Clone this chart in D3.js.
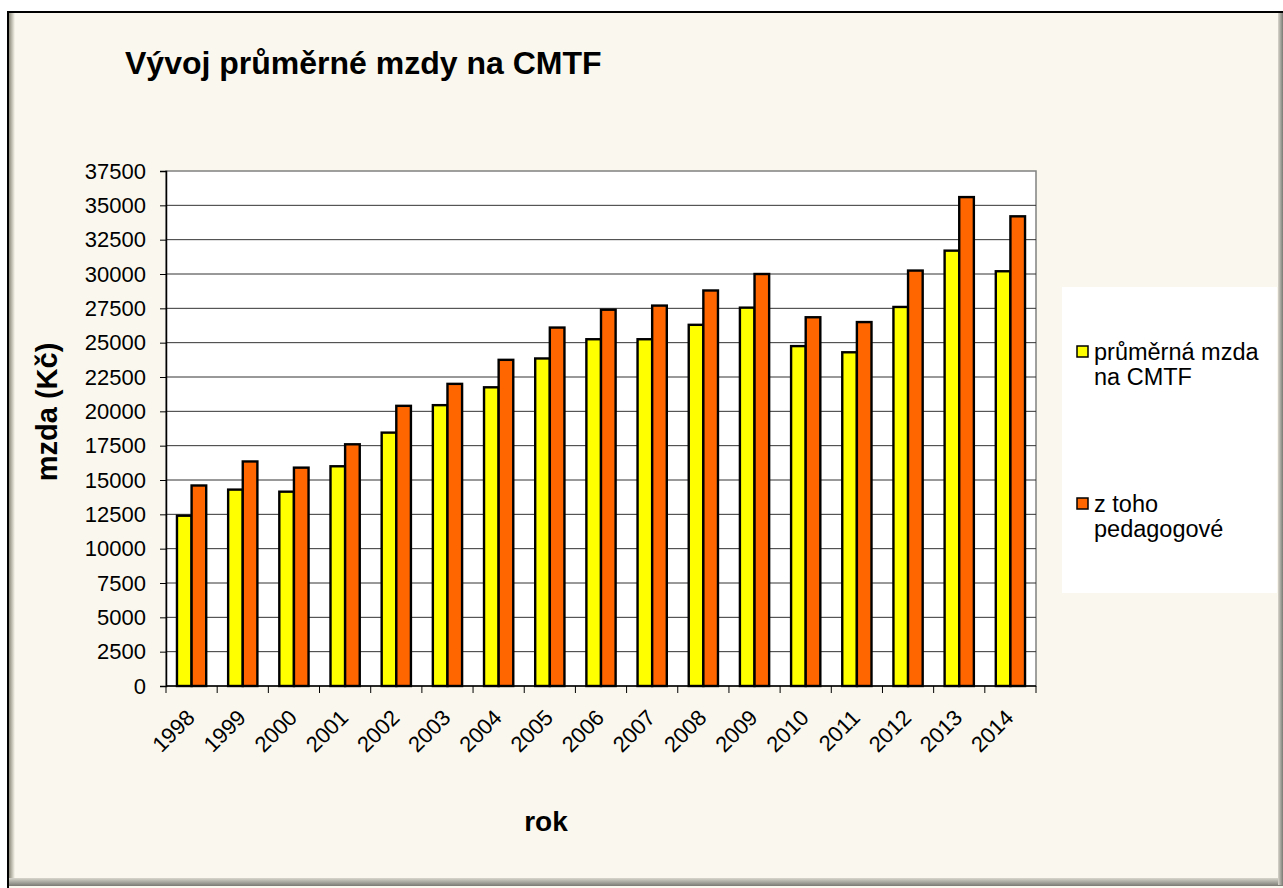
<!DOCTYPE html>
<html>
<head>
<meta charset="utf-8">
<script src="https://cdn.jsdelivr.net/npm/d3@7"></script>
<style>
  body { margin: 0; background: #ffffff; }
  svg { display: block; font-family: "Liberation Sans", Arial, sans-serif; }
</style>
</head>
<body>
<svg width="1283" height="888"></svg>
<script>
// data
const years = ["1998", "1999", "2000", "2001", "2002", "2003", "2004", "2005", "2006",
  "2007", "2008", "2009", "2010", "2011", "2012", "2013", "2014"];
const seriesNames = ["průměrná mzda na CMTF", "z toho pedagogové"];
const prumernaMzda = [12400, 14300, 14150, 16000, 18450, 20450, 21750, 23850, 25250,
  25250, 26300, 27550, 24750, 24300, 27600, 31700, 30200];
const pedagogove = [14600, 16350, 15900, 17600, 20400, 22000, 23750, 26100, 27400,
  27700, 28800, 30000, 26850, 26500, 30250, 35600, 34200];
const yTicks = [0, 2500, 5000, 7500, 10000, 12500, 15000, 17500, 20000, 22500,
  25000, 27500, 30000, 32500, 35000, 37500];
const legendLines = [["průměrná mzda", "na CMTF"], ["z toho", "pedagogové"]];

const colors = ["#ffff00", "#ff6600"];

let svg = d3.select("svg");

// outer frame
let defs = svg.append("defs");
let gl = defs.append("linearGradient").attr("id", "shL");
gl.append("stop").attr("offset", "0").attr("stop-color", "#8a8878");
gl.append("stop").attr("offset", "1").attr("stop-color", "#faf8ee");
let gb = defs.append("linearGradient").attr("id", "shB").attr("x1", 0).attr("x2", 0).attr("y1", 0).attr("y2", 1);
gb.append("stop").attr("offset", "0").attr("stop-color", "#d8d6cc");
gb.append("stop").attr("offset", "1").attr("stop-color", "#7a7a74");
let gr = defs.append("linearGradient").attr("id", "shR");
gr.append("stop").attr("offset", "0").attr("stop-color", "#d8d6cc");
gr.append("stop").attr("offset", "1").attr("stop-color", "#7a7a74");

svg.append("rect").attr("x", 8).attr("y", 12).attr("width", 1275).attr("height", 876).attr("fill", "#faf8ee");
svg.append("rect").attr("x", 9).attr("y", 13).attr("width", 6).attr("height", 868).attr("fill", "url(#shL)");
svg.append("rect").attr("x", 9).attr("y", 878).attr("width", 1274).attr("height", 8).attr("fill", "url(#shB)");
svg.append("rect").attr("x", 1278).attr("y", 13).attr("width", 5).attr("height", 872).attr("fill", "url(#shR)");
svg.append("path").attr("d", "M8,888 V12 H1283").attr("fill", "none").attr("stroke", "#000").attr("stroke-width", 2);

let margin = { top: 171, left: 166, right: 1036, bottom: 686 };

let x0 = d3.scaleBand().domain(years).range([margin.left, margin.right]);
let x1 = d3.scaleBand().domain(seriesNames).range([0, x0.bandwidth()]).paddingOuter(0.75);
let y = d3.scaleLinear().domain([0, 37500]).range([margin.bottom, margin.top]);

// plot area
svg.append("rect")
  .attr("x", margin.left).attr("y", margin.top)
  .attr("width", margin.right - margin.left).attr("height", margin.bottom - margin.top)
  .attr("fill", "#ffffff").attr("stroke", "#808080").attr("stroke-width", 1.5);

// gridlines
svg.append("g").selectAll("line")
  .data(yTicks.slice(1, -1))
  .enter().append("line")
  .attr("x1", margin.left).attr("x2", margin.right)
  .attr("y1", d => y(d)).attr("y2", d => y(d))
  .attr("stroke", "#333").attr("stroke-width", 1);

// bars
let series = [prumernaMzda, pedagogove];
series.forEach((vals, si) => {
  svg.append("g").selectAll("rect")
    .data(years)
    .enter().append("rect")
    .attr("x", (d, i) => x0(d) + x1(seriesNames[si]))
    .attr("y", (d, i) => y(vals[i]))
    .attr("width", x1.bandwidth())
    .attr("height", (d, i) => y(0) - y(vals[i]))
    .attr("fill", colors[si])
    .attr("stroke", "#000")
    .attr("stroke-width", 2.4);
});

// y axis
let yAxis = d3.axisLeft(y).tickValues(yTicks).tickSize(6).tickPadding(14).tickFormat(d3.format("d"));
let gy = svg.append("g").attr("transform", `translate(${margin.left},0)`).call(yAxis);
gy.select(".domain").attr("stroke", "#000").attr("stroke-width", 1.5);
gy.selectAll(".tick line").attr("stroke", "#000");
gy.selectAll("text").attr("font-size", "22px").attr("fill", "#000")
  .attr("font-family", "Liberation Sans, Arial, sans-serif");

// x axis: ticks between categories
let gx = svg.append("g");
gx.append("line")
  .attr("x1", margin.left).attr("x2", margin.right)
  .attr("y1", margin.bottom).attr("y2", margin.bottom)
  .attr("stroke", "#000").attr("stroke-width", 1.5);
gx.selectAll(".tk")
  .data(years.concat(["end"]))
  .enter().append("line")
  .attr("x1", (d, i) => i < years.length ? x0(d) : margin.right)
  .attr("x2", (d, i) => i < years.length ? x0(d) : margin.right)
  .attr("y1", margin.bottom).attr("y2", margin.bottom + 7)
  .attr("stroke", "#000");
gx.selectAll(".lbl")
  .data(years)
  .enter().append("text")
  .attr("transform", d => `translate(${x0(d) + x0.bandwidth() / 2 + 4.5},${margin.bottom + 33}) rotate(-45)`)
  .attr("text-anchor", "end")
  .attr("font-size", "22px")
  .text(d => d);

// titles
svg.append("text")
  .attr("x", 125).attr("y", 74)
  .attr("font-size", "32px").attr("font-weight", "bold")
  .text("Vývoj průměrné mzdy na CMTF");

svg.append("text")
  .attr("transform", "translate(57,412) rotate(-90)")
  .attr("text-anchor", "middle")
  .attr("font-size", "29px").attr("font-weight", "bold")
  .text("mzda (Kč)");

svg.append("text")
  .attr("x", 546).attr("y", 831)
  .attr("text-anchor", "middle")
  .attr("font-size", "28px").attr("font-weight", "bold")
  .text("rok");

// legend
let lg = svg.append("g");
lg.append("rect")
  .attr("x", 1062).attr("y", 287).attr("width", 215).attr("height", 306)
  .attr("fill", "#ffffff");
let ly = d3.scalePoint().domain(seriesNames).range([346, 498]);
seriesNames.forEach((s, si) => {
  lg.append("rect")
    .attr("x", 1077).attr("y", ly(s))
    .attr("width", 11).attr("height", 11)
    .attr("fill", colors[si]).attr("stroke", "#000").attr("stroke-width", 1.5);
  lg.append("text")
    .attr("x", 1094).attr("y", ly(s) + 14)
    .attr("font-size", "23.5px")
    .selectAll("tspan")
    .data(legendLines[si])
    .enter().append("tspan")
    .attr("x", 1094)
    .attr("dy", (d, i) => i === 0 ? 0 : 25)
    .text(d => d);
});
</script>
</body>
</html>
